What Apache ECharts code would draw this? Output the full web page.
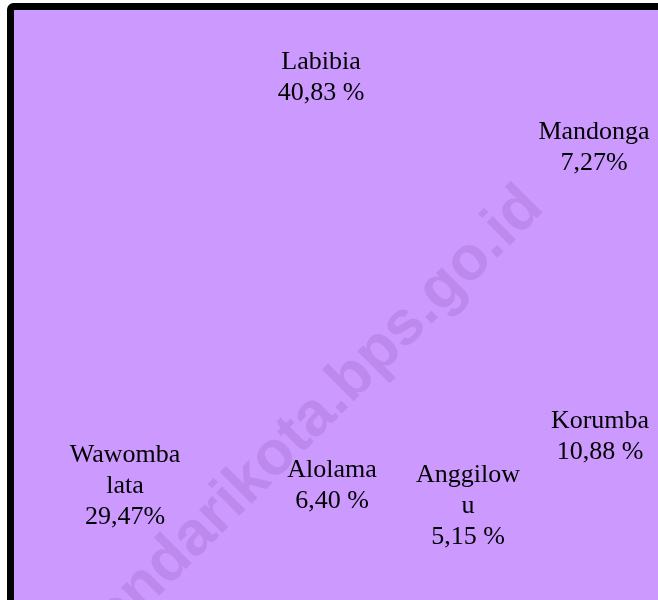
<!DOCTYPE html>
<html>
<head>
<meta charset="utf-8">
<script src="https://cdn.jsdelivr.net/npm/echarts@6/dist/echarts.min.js"></script>
<style>
  html, body { margin: 0; padding: 0; background: #fff; }
  #main { width: 658px; height: 600px; }
</style>
</head>
<body>
<div id="main"></div>
<script>
// kecamatan dan persentase
var categories = ['Labibia', 'Mandonga', 'Korumba', 'Anggilow\nu', 'Alolama', 'Wawomba\nlata'];
var values = [40.83, 7.27, 10.88, 5.15, 6.40, 29.47];
// spasi sebelum tanda % seperti di gambar asli
var pctSep = [' ', '', ' ', ' ', ' ', ''];

// posisi label (ditempatkan manual seperti di Excel)
var labelPos = [[321, 78], [594, 148], [600, 437], [468, 506], [332, 486], [125, 486]];

var myChart = echarts.init(document.getElementById('main'));

var pieData = [];
for (var i = 0; i < categories.length; i++) {
  pieData.push({ name: categories[i], value: values[i] });
}

var option = {
  backgroundColor: '#ffffff',
  animation: false,
  graphic: [
    {
      type: 'rect',
      z: -10,
      shape: { x: 10.5, y: 6.5, width: 700, height: 650, r: 3 },
      style: { fill: '#CC99FF', stroke: '#000000', lineWidth: 7 }
    },
    {
      // watermark
      type: 'text',
      z: -5,
      x: 307,
      y: 424,
      rotation: Math.PI / 4,
      style: {
        text: 'kendarikota.bps.go.id',
        font: 'bold 62px Liberation Sans',
        fill: '#BD89EC',
        align: 'center',
        verticalAlign: 'middle'
      }
    }
  ],
  series: [{
    type: 'pie',
    center: ['50%', '52%'],
    radius: '60%',
    startAngle: 163,
    clockwise: true,
    silent: true,
    itemStyle: { color: 'rgba(204,153,255,0)', borderWidth: 0 },
    emphasis: { disabled: true },
    label: {
      show: true,
      position: 'inside',
      color: '#000',
      fontFamily: 'Liberation Serif',
      fontSize: 26,
      lineHeight: 31,
      align: 'center',
      formatter: function (p) {
        return p.name + '\n' + p.value.toFixed(2).replace('.', ',') + pctSep[p.dataIndex] + '%';
      }
    },
    labelLine: { show: false },
    labelLayout: function (params) {
      var pos = labelPos[params.dataIndex];
      return { x: pos[0], y: pos[1], align: 'center', verticalAlign: 'middle' };
    },
    data: pieData
  }]
};

myChart.setOption(option);
</script>
</body>
</html>
